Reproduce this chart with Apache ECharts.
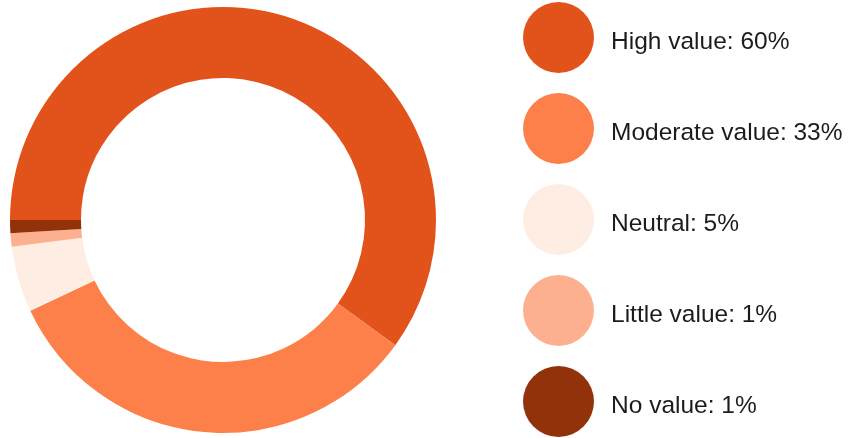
<!DOCTYPE html>
<html>
<head>
<meta charset="utf-8">
<script src="https://cdn.jsdelivr.net/npm/echarts@6/dist/echarts.min.js"></script>
<style>
  html, body { margin: 0; padding: 0; background: #ffffff; }
  #chart { width: 848px; height: 438px; }
</style>
</head>
<body>
<div id="chart"></div>
<script>
// Survey answers and their shares (percent)
const categories = ['High value', 'Moderate value', 'Neutral', 'Little value', 'No value'];
const shares = [60, 33, 5, 1, 1];
const sliceColors = ['#E2531C', '#FD7F4A', '#FEEDE2', '#FDB08F', '#92320B'];

const chart = echarts.init(document.getElementById('chart'), null, { renderer: 'canvas' });

const seriesData = categories.map((name, i) => ({
  name: name,
  value: shares[i],
  itemStyle: { color: sliceColors[i] }
}));

chart.setOption({
  animation: false,
  backgroundColor: '#ffffff',
  legend: {
    type: 'plain',
    orient: 'vertical',
    left: 523,
    top: 2,
    padding: 0,
    itemWidth: 71,
    itemHeight: 71,
    itemGap: 20,
    icon: 'circle',
    selectedMode: false,
    data: categories,
    formatter: function (name) {
      const i = categories.indexOf(name);
      return '{t|' + name + ': ' + shares[i] + '%}';
    },
    textStyle: {
      rich: {
        t: {
          fontFamily: '"Liberation Sans", Arial, sans-serif',
          fontSize: 24.5,
          color: '#1c1c1c',
          lineHeight: 28,
          padding: [10, 0, 0, 12]
        }
      }
    }
  },
  series: [{
    type: 'pie',
    center: [223, 220],
    radius: [142, 213],
    startAngle: 180,
    clockwise: true,
    silent: true,
    label: { show: false },
    labelLine: { show: false },
    itemStyle: { borderWidth: 0 },
    emphasis: { disabled: true },
    data: seriesData
  }]
});
</script>
</body>
</html>
